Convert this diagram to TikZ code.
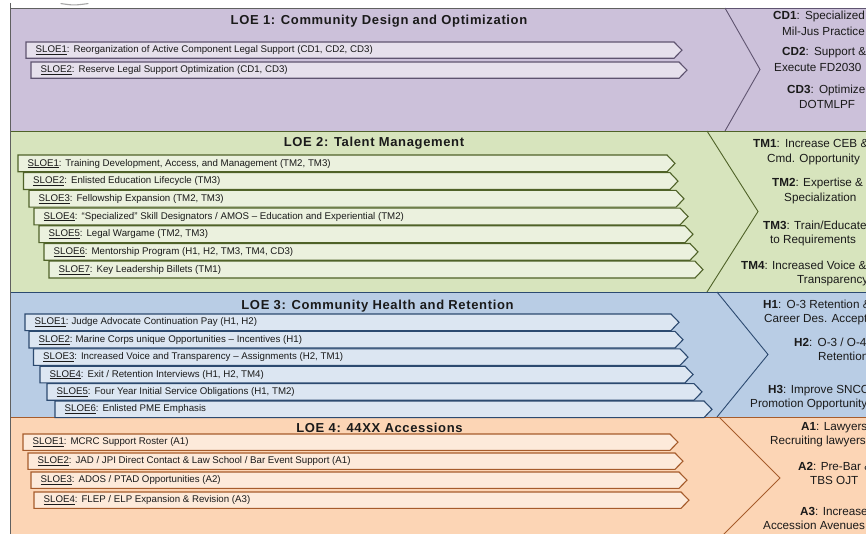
\documentclass[tikz,border=0pt]{standalone}
\usepackage{fontspec}
\setmainfont{Liberation Sans}
\newfontfamily\titlefont[LetterSpace=5]{Liberation Sans}
\definecolor{pBand}{HTML}{CCC1DA}
\definecolor{pSloe}{HTML}{E6E0EC}
\definecolor{pLine}{HTML}{5F5470}
\definecolor{gBand}{HTML}{D7E4BD}
\definecolor{gSloe}{HTML}{EBF1DE}
\definecolor{gLine}{HTML}{4F6228}
\definecolor{bBand}{HTML}{B9CDE5}
\definecolor{bSloe}{HTML}{DCE6F2}
\definecolor{bLine}{HTML}{2C4A70}
\definecolor{oBand}{HTML}{FCD5B5}
\definecolor{oSloe}{HTML}{FDEADA}
\definecolor{oLine}{HTML}{A65C2C}
\definecolor{txt}{HTML}{1A1A1A}
\newcommand\mysloe[7]{% name, left x, top y, tip x, height, colour prefix, text
  \draw[fill=#6Sloe, draw=#6Line, line width=1.1pt, line join=miter]
    (#2,#3) -- ({#4-8},#3) -- (#4,{#3+#5/2}) -- ({#4-8},{#3+#5}) -- (#2,{#3+#5}) -- cycle;
  \node[sloetext] (#1) at ({#2+9.5},{#3+#5/2}) {#7};
}
\newcommand\myband[6]{% top, bottom, chevron x, apex x, colour prefix, name
  \fill[#5Band] (10,#1) rectangle (900,#2);
  \draw[#5Line, line width=0.8pt] (10,#1) -- (900,#1);
  \draw[#5Line, line width=0.8pt] (10,#2) -- (900,#2);
  \draw[#5Line, line width=0.9pt] (#3,#1) -- (#4,{(#1+#2)/2}) -- (#3,#2);
  \coordinate (#6) at (#4,{(#1+#2)/2});
}
\tikzset{
  sloetext/.style={anchor=mid west, inner sep=0pt, text=txt, font=\fontsize{9.7}{11}\selectfont},
  outtext/.style={anchor=mid west, inner sep=0pt, text=txt, font=\fontsize{11.7}{13}\selectfont},
  loetitle/.style={inner sep=0pt, text=txt, font=\titlefont\bfseries\fontsize{13}{15}\selectfont},
}
\begin{document}
\begin{tikzpicture}[x=1pt, y=-1pt]
\useasboundingbox (0,0) rectangle (866,534);
\clip (0,0) rectangle (866,534);
\fill[white] (0,0) rectangle (866,534);
% small mark at top
\draw[gray!70, line width=1.1pt, line cap=round] (61,3.6) .. controls (74,5.4) .. (88,3.6);
% bands
\myband{8}{131}{725}{760}{p}{apex1}
\myband{131}{292}{707}{758}{g}{apex2}
\myband{292}{417}{717}{768}{b}{apex3}
\myband{417}{539}{719}{780}{o}{apex4}
\draw[gray!75!black, line width=0.9pt] (10,3) -- (10,540);
\draw[gray!75!black, line width=0.8pt] (10,8) -- (725,8);
% titles
\node[loetitle] (loe1) at (379,20.7) {LOE 1: Community Design and Optimization};
\node[loetitle] (loe2) at (374,143.5) {LOE 2: Talent Management};
\node[loetitle] (loe3) at (377.5,306) {LOE 3: Community Health and Retention};
\node[loetitle] (loe4) at (379.5,428) {LOE 4: 44XX Accessions};
% LOE 1 SLOEs
\mysloe{s11}{26}{42}{682}{16.3}{p}{\underline{SLOE1}:\hspace{0.4em}Reorganization of Active Component Legal Support (CD1, CD2, CD3)}
\mysloe{s12}{31}{62}{687}{16.3}{p}{\underline{SLOE2}:\hspace{0.4em}Reserve Legal Support Optimization (CD1, CD3)}
% LOE 2 SLOEs
\mysloe{s21}{18}{155}{675}{16.8}{g}{\underline{SLOE1}: Training Development, Access, and Management (TM2, TM3)}
\mysloe{s22}{23.5}{172.7}{678}{16.8}{g}{\underline{SLOE2}:\hspace{0.4em}Enlisted Education Lifecycle (TM3)}
\mysloe{s23}{29}{190.4}{684}{16.8}{g}{\underline{SLOE3}:\hspace{0.4em}Fellowship Expansion (TM2, TM3)}
\mysloe{s24}{34}{208.1}{688}{16.8}{g}{\underline{SLOE4}:\hspace{0.4em}“Specialized” Skill Designators / AMOS – Education and Experiential (TM2)}
\mysloe{s25}{39}{225.8}{693}{16.8}{g}{\underline{SLOE5}:\hspace{0.4em}Legal Wargame (TM2, TM3)}
\mysloe{s26}{44}{243.5}{698}{16.8}{g}{\underline{SLOE6}:\hspace{0.4em}Mentorship Program (H1, H2, TM3, TM4, CD3)}
\mysloe{s27}{49}{261.2}{703}{16.8}{g}{\underline{SLOE7}:\hspace{0.4em}Key Leadership Billets (TM1)}
% LOE 3 SLOEs
\mysloe{s31}{25}{314}{679}{16.6}{b}{\underline{SLOE1}:\hspace{0.3em}Judge Advocate Continuation Pay (H1, H2)}
\mysloe{s32}{29}{331.4}{683}{16.6}{b}{\underline{SLOE2}:\hspace{0.3em}Marine Corps unique Opportunities – Incentives (H1)}
\mysloe{s33}{33.5}{348.8}{688}{16.6}{b}{\underline{SLOE3}:\hspace{0.4em}Increased Voice and Transparency – Assignments (H2, TM1)}
\mysloe{s34}{40}{366.2}{693}{16.6}{b}{\underline{SLOE4}:\hspace{0.4em}Exit / Retention Interviews (H1, H2, TM4)}
\mysloe{s35}{47}{383.6}{702}{16.6}{b}{\underline{SLOE5}:\hspace{0.4em}Four Year Initial Service Obligations (H1, TM2)}
\mysloe{s36}{55}{401}{712}{16.6}{b}{\underline{SLOE6}:\hspace{0.4em}Enlisted PME Emphasis}
% LOE 4 SLOEs
\mysloe{s41}{23}{434}{678}{16.3}{o}{\underline{SLOE1}:\hspace{0.4em}MCRC Support Roster (A1)}
\mysloe{s42}{28}{453}{683}{16.3}{o}{\underline{SLOE2}:\hspace{0.4em}JAD / JPI Direct Contact \& Law School / Bar Event Support (A1)}
\mysloe{s43}{31}{472}{687}{16.3}{o}{\underline{SLOE3}:\hspace{0.4em}ADOS / PTAD Opportunities (A2)}
\mysloe{s44}{34}{492}{689}{16.3}{o}{\underline{SLOE4}:\hspace{0.4em}FLEP / ELP Expansion \& Revision (A3)}
% outcomes LOE 1
\node[outtext] (cd1a) at (773,16.5) {\textbf{CD1}:\hspace{0.45em}Specialized};
\node[outtext] (cd1b) at (782,32.5) {Mil-Jus Practice};
\node[outtext] (cd2a) at (782,53) {\textbf{CD2}:\hspace{0.45em}Support \&};
\node[outtext] (cd2b) at (774,68.5) {Execute FD2030};
\node[outtext] (cd3a) at (787,91) {\textbf{CD3}:\hspace{0.45em}Optimize};
\node[outtext] (cd3b) at (799,105.5) {DOTMLPF};
% outcomes LOE 2
\node[outtext] (tm1a) at (753,145) {\textbf{TM1}:\hspace{0.45em}Increase CEB \&};
\node[outtext] (tm1b) at (767,159.5) {Cmd. Opportunity};
\node[outtext] (tm2a) at (772,183.5) {\textbf{TM2}: Expertise \&};
\node[outtext] (tm2b) at (784,198.5) {Specialization};
\node[outtext] (tm3a) at (763,227) {\textbf{TM3}: Train/Educate};
\node[outtext] (tm3b) at (770,241) {to Requirements};
\node[outtext] (tm4a) at (741,267) {\textbf{TM4}: Increased Voice \&};
\node[outtext] (tm4b) at (797,281) {Transparency};
% outcomes LOE 3
\node[outtext] (h1a) at (763,305.5) {\textbf{H1}:\hspace{0.45em}O-3 Retention \&};
\node[outtext] (h1b) at (764,319.5) {Career Des. Acceptance};
\node[outtext] (h2a) at (794,343.5) {\textbf{H2}:\hspace{0.45em}O-3 / O-4};
\node[outtext] (h2b) at (818,357.5) {Retention};
\node[outtext] (h3a) at (768,390.5) {\textbf{H3}: Improve SNCO};
\node[outtext] (h3b) at (750,405) {Promotion Opportunity};
% outcomes LOE 4
\node[outtext] (a1a) at (801,427.5) {\textbf{A1}: Lawyers};
\node[outtext] (a1b) at (770,442) {Recruiting lawyers};
\node[outtext] (a2a) at (798,468) {\textbf{A2}: Pre-Bar \&};
\node[outtext] (a2b) at (810,482) {TBS OJT};
\node[outtext] (a3a) at (800,513) {\textbf{A3}: Increase};
\node[outtext] (a3b) at (763,527) {Accession Avenues};
\end{tikzpicture}
\end{document}
